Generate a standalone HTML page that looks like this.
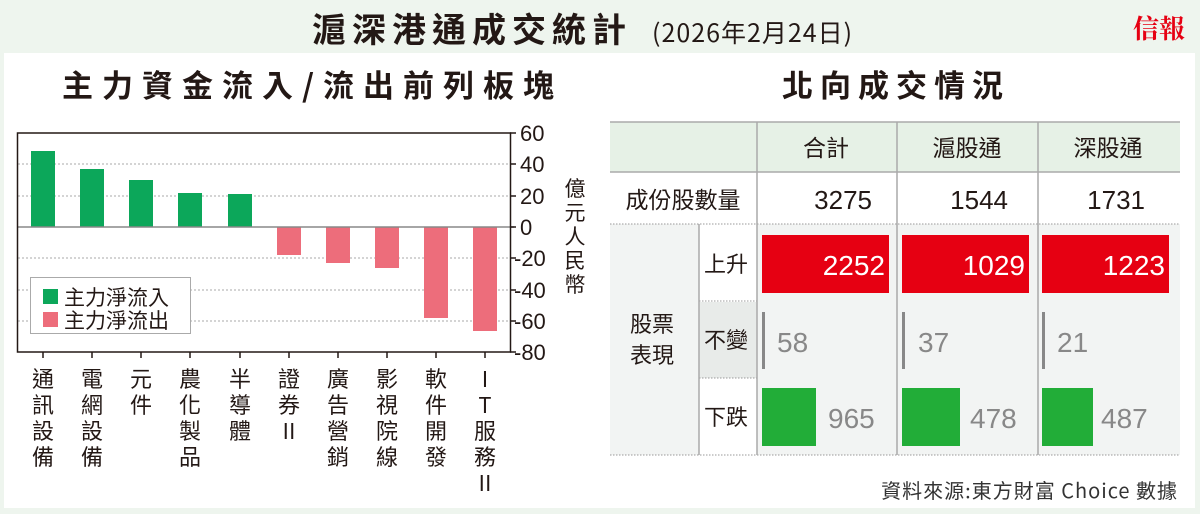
<!DOCTYPE html>
<html><head><meta charset="utf-8"><style>
html,body{margin:0;padding:0;background:#eef5ee;}
svg{display:block;font-family:"Liberation Sans","Noto Sans CJK TC",sans-serif;}
</style></head><body>
<svg width="1200" height="514" viewBox="0 0 1200 514" xmlns="http://www.w3.org/2000/svg">
<rect x="0" y="0" width="1200" height="514" fill="#eef5ee"/>
<rect x="4" y="53" width="1191" height="455" fill="#ffffff"/>
<!-- titles -->
<text x="312" y="42" font-size="34" font-weight="bold" letter-spacing="6" fill="#231815" font-family="Noto Sans CJK TC, sans-serif">滬深港通成交統計</text>
<text x="652" y="42" font-size="25" letter-spacing="1" fill="#231815" font-family="Noto Sans CJK TC, sans-serif">(2026年2月24日)</text>
<text x="1133" y="38" font-size="26" font-weight="bold" fill="#e60012" font-family="Noto Serif CJK SC, serif">信報</text>
<text x="62" y="97" font-size="31" font-weight="bold" letter-spacing="9" fill="#231815" font-family="Noto Sans CJK TC, sans-serif">主力資金流入/流出前列板塊</text>
<text x="782" y="97" font-size="31" font-weight="bold" letter-spacing="7" fill="#231815" font-family="Noto Sans CJK TC, sans-serif">北向成交情況</text>

<!-- chart -->
<g stroke="#aaa" stroke-width="1" stroke-dasharray="2,2">
<line x1="18" y1="164" x2="510" y2="164"/>
<line x1="18" y1="196" x2="510" y2="196"/>
<line x1="18" y1="258" x2="510" y2="258"/>
<line x1="18" y1="290" x2="510" y2="290"/>
<line x1="18" y1="321" x2="510" y2="321"/>
</g>
<g fill="#0ca75a">
<rect x="31" y="151" width="24" height="76"/>
<rect x="80" y="169" width="24" height="58"/>
<rect x="129" y="180" width="24" height="47"/>
<rect x="178" y="193" width="24" height="34"/>
<rect x="228" y="194" width="24" height="33"/>
</g>
<g fill="#ed6d7b">
<rect x="277" y="227" width="24" height="28"/>
<rect x="326" y="227" width="24" height="36"/>
<rect x="375" y="227" width="24" height="41"/>
<rect x="424" y="227" width="24" height="91"/>
<rect x="473" y="227" width="24" height="104"/>
</g>
<line x1="17" y1="227" x2="514" y2="227" stroke="#888" stroke-width="1.5"/>
<rect x="17.5" y="133" width="493" height="219" fill="none" stroke="#231815" stroke-width="1.5"/>
<g stroke="#231815" stroke-width="1.5">
<line x1="510" y1="133" x2="516" y2="133"/><line x1="510" y1="164" x2="516" y2="164"/><line x1="510" y1="196" x2="516" y2="196"/><line x1="510" y1="227" x2="516" y2="227"/><line x1="510" y1="258" x2="516" y2="258"/><line x1="510" y1="290" x2="516" y2="290"/><line x1="510" y1="321" x2="516" y2="321"/><line x1="510" y1="352" x2="516" y2="352"/>
<line x1="43" y1="352" x2="43" y2="358"/><line x1="92" y1="352" x2="92" y2="358"/><line x1="141" y1="352" x2="141" y2="358"/><line x1="190" y1="352" x2="190" y2="358"/><line x1="240" y1="352" x2="240" y2="358"/><line x1="289" y1="352" x2="289" y2="358"/><line x1="338" y1="352" x2="338" y2="358"/><line x1="387" y1="352" x2="387" y2="358"/><line x1="436" y1="352" x2="436" y2="358"/><line x1="485" y1="352" x2="485" y2="358"/>
</g>
<g font-size="22" fill="#231815" font-family="Liberation Sans, sans-serif">
<text x="520" y="141">60</text><text x="520" y="172">40</text><text x="520" y="204">20</text><text x="520" y="235">0</text>
<text x="514" y="266">-20</text><text x="514" y="298">-40</text><text x="514" y="329">-60</text><text x="514" y="360">-80</text>
</g>
<g font-size="21" fill="#231815" text-anchor="middle" font-family="Noto Sans CJK TC, sans-serif">
<text x="575" y="196">億</text><text x="575" y="220">元</text><text x="575" y="244">人</text><text x="575" y="268">民</text><text x="575" y="292">幣</text>
</g>
<rect x="30.5" y="277.5" width="160" height="56" fill="#fff" stroke="#aaa"/>
<rect x="43" y="289" width="15" height="15" fill="#0ca75a"/>
<rect x="43" y="312" width="15" height="15" fill="#ed6d7b"/>
<g font-size="21" fill="#231815" font-family="Noto Sans CJK TC, sans-serif">
<text x="64" y="305">主力淨流入</text><text x="64" y="328">主力淨流出</text>
</g>
<g font-size="22" fill="#231815" text-anchor="middle" font-family="Noto Sans CJK TC, sans-serif">
<text x="43" y="387">通</text><text x="43" y="413">訊</text><text x="43" y="439">設</text><text x="43" y="465">備</text>
<text x="92" y="387">電</text><text x="92" y="413">網</text><text x="92" y="439">設</text><text x="92" y="465">備</text>
<text x="141" y="387">元</text><text x="141" y="413">件</text>
<text x="190" y="387">農</text><text x="190" y="413">化</text><text x="190" y="439">製</text><text x="190" y="465">品</text>
<text x="240" y="387">半</text><text x="240" y="413">導</text><text x="240" y="439">體</text>
<text x="289" y="387">證</text><text x="289" y="413">券</text><text x="289" y="439">II</text>
<text x="338" y="387">廣</text><text x="338" y="413">告</text><text x="338" y="439">營</text><text x="338" y="465">銷</text>
<text x="387" y="387">影</text><text x="387" y="413">視</text><text x="387" y="439">院</text><text x="387" y="465">線</text>
<text x="436" y="387">軟</text><text x="436" y="413">件</text><text x="436" y="439">開</text><text x="436" y="465">發</text>
<text x="485" y="387">I</text><text x="485" y="413">T</text><text x="485" y="439">服</text><text x="485" y="465">務</text><text x="485" y="491">II</text>
</g>

<!-- table -->
<rect x="610" y="122" width="570" height="50" fill="#e6f1e6"/>
<rect x="610" y="224" width="570" height="231" fill="#f2f4f3"/>
<rect x="699" y="224" width="58" height="78" fill="#ffffff"/>
<rect x="699" y="302" width="58" height="76" fill="#e8ebe9"/>
<rect x="699" y="378" width="58" height="77" fill="#ffffff"/>
<line x1="610" y1="122" x2="1180" y2="122" stroke="#aaa" stroke-width="1.5"/>
<line x1="610" y1="172" x2="1180" y2="172" stroke="#aaa" stroke-width="1.5"/>
<g stroke="#999" stroke-width="1" stroke-dasharray="1.5,1.5">
<line x1="610" y1="224" x2="1180" y2="224"/>
<line x1="699" y1="301" x2="757" y2="301"/>
<line x1="699" y1="378" x2="757" y2="378"/>
<line x1="610" y1="455" x2="1180" y2="455"/>
</g>
<g stroke="#aaa" stroke-width="1.5">
<line x1="757" y1="122" x2="757" y2="455"/>
<line x1="897" y1="122" x2="897" y2="455"/>
<line x1="1038" y1="122" x2="1038" y2="455"/>
<line x1="699" y1="224" x2="699" y2="455"/>
</g>
<g font-size="23" fill="#231815" text-anchor="middle" font-family="Noto Sans CJK TC, sans-serif">
<text x="826" y="156">合計</text><text x="967" y="156">滬股通</text><text x="1108" y="156">深股通</text>
</g>
<text x="683" y="208" font-size="23" fill="#231815" text-anchor="middle" font-family="Noto Sans CJK TC, sans-serif">成份股數量</text>
<g font-size="26" fill="#231815" text-anchor="end" font-family="Liberation Sans, sans-serif">
<text x="872" y="209">3275</text><text x="1008" y="209">1544</text><text x="1145" y="209">1731</text>
</g>
<g font-size="22" fill="#231815" font-family="Noto Sans CJK TC, sans-serif">
<text x="630" y="332">股票</text><text x="630" y="363">表現</text>
<text x="704" y="272">上升</text><text x="704" y="348">不變</text><text x="704" y="425">下跌</text>
</g>
<g fill="#e60012">
<rect x="762" y="235" width="127" height="58"/><rect x="902" y="235" width="127" height="58"/><rect x="1042" y="235" width="127" height="58"/>
</g>
<g font-size="28" fill="#fff" text-anchor="end" font-family="Liberation Sans, sans-serif">
<text x="885" y="275">2252</text><text x="1025" y="275">1029</text><text x="1165" y="275">1223</text>
</g>
<g fill="#888">
<rect x="762" y="312" width="3" height="57"/><rect x="902" y="312" width="3" height="57"/><rect x="1042" y="312" width="3" height="57"/>
</g>
<g fill="#22ad38">
<rect x="762" y="388" width="54" height="58"/><rect x="902" y="388" width="58" height="58"/><rect x="1042" y="388" width="51" height="58"/>
</g>
<g font-size="28" fill="#888" font-family="Liberation Sans, sans-serif">
<text x="777" y="352">58</text><text x="918" y="352">37</text><text x="1057" y="352">21</text>
<text x="828" y="428">965</text><text x="970" y="428">478</text><text x="1101" y="428">487</text>
</g>
<text x="1178" y="498" font-size="20" letter-spacing="1" fill="#333" text-anchor="end" font-family="Noto Sans CJK TC, sans-serif">資料來源:東方財富 Choice 數據</text>
</svg>
</body></html>
